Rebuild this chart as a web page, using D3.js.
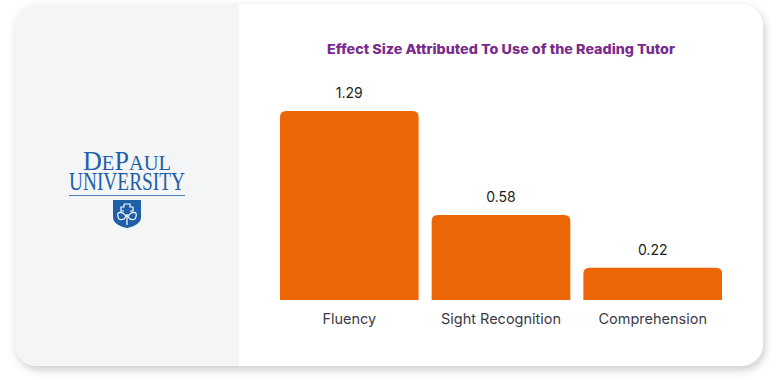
<!DOCTYPE html>
<html>
<head>
<meta charset="utf-8">
<style>
  body { margin: 0; background: #ffffff; }
  svg { display: block; }
  .title { font: 800 13px Inter, "Open Sans", sans-serif; fill: #7a2a8c; }
  .val { font: 14px Inter, "Open Sans", sans-serif; fill: #222; }
  .cat { font: 14.5px Inter, "Open Sans", sans-serif; fill: #3a3a48; }
  .logo { font-family: "Liberation Serif", "DejaVu Serif", serif; fill: #1f5ea8; }
</style>
<script src="https://d3js.org/d3.v7.min.js"></script>
</head>
<body>
<svg width="777" height="380"></svg>
<script>
var categories = ["Fluency", "Sight Recognition", "Comprehension"];
var values = [1.29, 0.58, 0.22];
var valueLabels = ["1.29", "0.58", "0.22"];
var chartTitle = "Effect Size Attributed To Use of the Reading Tutor";

var svg = d3.select("svg");

// card with soft shadow
var defs = svg.append("defs");
var f = defs.append("filter").attr("id", "shadow")
  .attr("x", "-5%").attr("y", "-5%").attr("width", "110%").attr("height", "115%");
f.append("feDropShadow").attr("dx", 2).attr("dy", 4).attr("stdDeviation", 4)
  .attr("flood-color", "#000").attr("flood-opacity", 0.2);
defs.append("clipPath").attr("id", "cardclip")
  .append("rect").attr("x", 15).attr("y", 4).attr("width", 748).attr("height", 362).attr("rx", 22);

svg.append("rect").attr("x", 15).attr("y", 4).attr("width", 748).attr("height", 362)
  .attr("rx", 22).attr("fill", "#fff").attr("filter", "url(#shadow)");
svg.append("rect").attr("x", 0).attr("y", 0).attr("width", 239).attr("height", 380)
  .attr("fill", "#f4f5f7").attr("clip-path", "url(#cardclip)");

// logo (one text element, two lines)
var logo = svg.append("g").attr("class", "logo");
var lt = logo.append("text").attr("text-anchor", "middle");
lt.append("tspan").attr("x", 127).attr("y", 170)
  .attr("textLength", 88).attr("lengthAdjust", "spacingAndGlyphs")
  .style("font-size", "28px")
  .html('D<tspan style="font-size:22px">E</tspan>P<tspan style="font-size:22px">AUL</tspan>');
lt.append("tspan").attr("x", 127).attr("y", 190)
  .attr("textLength", 116).attr("lengthAdjust", "spacingAndGlyphs")
  .style("font-size", "25px")
  .text("UNIVERSITY");
logo.append("line").attr("x1", 69).attr("x2", 185).attr("y1", 195.5).attr("y2", 195.5)
  .attr("stroke", "#1f5ea8").attr("stroke-width", 0.8);
logo.append("path")
  .attr("d", "M113,200 L141,200 L141,217 Q141,225 127,228 Q113,225 113,217 Z")
  .attr("fill", "#1f5ea8");
logo.append("path")
  .attr("d", "M124,204 L130,204 L130,207 L133,207 L133,211 L130,211 M124,204 L124,207 L121,207 L121,211 L124,211 M118,213 Q122,211 126,216 Q124,221 119,219 Q117,216 118,213 M136,213 Q132,211 128,216 Q130,221 135,219 Q137,216 136,213 M127,214 L127,225")
  .attr("fill", "none").attr("stroke", "#fff").attr("stroke-width", 1.2);

// chart
var x = d3.scaleBand().domain(categories).range([280, 722]).paddingInner(0.086).paddingOuter(0);
var y = d3.scaleLinear().domain([0, 1.29]).range([300, 111]);

svg.append("text").attr("class", "title").attr("x", 501).attr("y", 54)
  .attr("text-anchor", "middle")
  .attr("textLength", 348).attr("lengthAdjust", "spacingAndGlyphs")
  .text(chartTitle);

var r = 6;
function barPath(d, i) {
  var x0 = x(categories[i]), w = x.bandwidth(), y0 = y(d), y1 = y(0);
  return "M" + x0 + "," + y1 + "L" + x0 + "," + (y0 + r) +
    "Q" + x0 + "," + y0 + " " + (x0 + r) + "," + y0 +
    "L" + (x0 + w - r) + "," + y0 +
    "Q" + (x0 + w) + "," + y0 + " " + (x0 + w) + "," + (y0 + r) +
    "L" + (x0 + w) + "," + y1 + "Z";
}

svg.selectAll(".bar").data(values).enter().append("path")
  .attr("class", "bar").attr("d", barPath).attr("fill", "#ec6608");

svg.selectAll(".val").data(values).enter().append("text")
  .attr("class", "val")
  .attr("x", function (d, i) { return x(categories[i]) + x.bandwidth() / 2; })
  .attr("y", function (d) { return y(d) - 13; })
  .attr("text-anchor", "middle")
  .text(function (d, i) { return valueLabels[i]; });

svg.selectAll(".cat").data(categories).enter().append("text")
  .attr("class", "cat")
  .attr("x", function (d) { return x(d) + x.bandwidth() / 2; })
  .attr("y", 324)
  .attr("text-anchor", "middle")
  .text(function (d) { return d; });
</script>
</body>
</html>
